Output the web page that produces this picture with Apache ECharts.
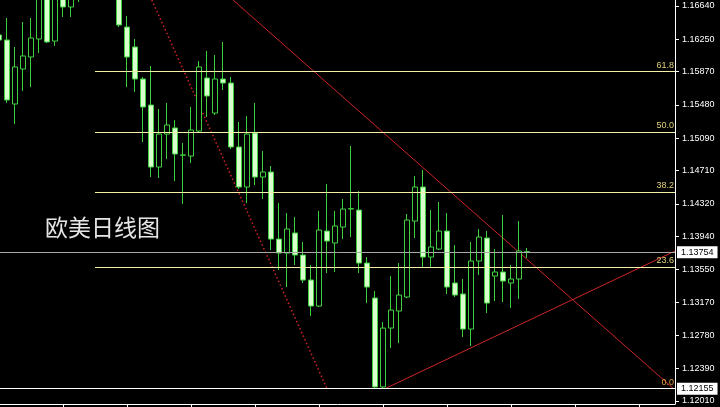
<!DOCTYPE html>
<html><head><meta charset="utf-8">
<script src="https://cdn.jsdelivr.net/npm/echarts@6/dist/echarts.min.js"></script>
<style>html,body{margin:0;padding:0;background:#000;}#c{width:720px;height:407px;}</style>
</head><body><div id="c"></div>
<script>
// Daily EUR/USD candles, index 0..66 (left to right)
const opens  = [1.16300,1.16241,1.15491,1.15901,1.16042,1.16253,1.16886,1.16229,1.16944,1.16628,
                1.16769,1.16886,1.17150,1.17400,1.17200,1.16944,1.16393,1.16159,1.15784,1.15479,
                1.14752,1.15139,1.15210,1.14890,1.14881,1.15174,1.15796,1.15385,1.15784,1.15737,
                1.14987,1.14518,1.15151,1.14635,1.14694,1.13908,1.13744,1.13979,1.13721,1.13428,
                1.13123,1.14002,1.13862,1.14049,1.14260,1.14248,1.13627,1.13217,1.12175,1.12865,
                1.13065,1.13229,1.14119,1.14518,1.13697,1.13791,1.14002,1.13393,1.13264,1.12853,
                1.13651,1.13920,1.13475,1.13522,1.13393,1.13440,1.13760];
const closes = [1.16241,1.15538,1.15925,1.16054,1.16265,1.16827,1.16218,1.16769,1.16628,1.16827,
                1.16886,1.17150,1.17400,1.17200,1.16950,1.16417,1.16042,1.15784,1.15456,1.14752,
                1.15139,1.15245,1.14905,1.14895,1.15186,1.15925,1.15585,1.15784,1.15737,1.14987,
                1.14518,1.15139,1.14635,1.14694,1.13908,1.13744,1.14026,1.13721,1.13428,1.13123,
                1.14014,1.13885,1.14061,1.14260,1.14265,1.13627,1.13346,1.12175,1.12865,1.13076,
                1.13252,1.14131,1.14518,1.13697,1.13815,1.14002,1.13346,1.13252,1.12853,1.13651,
                1.13932,1.13158,1.13522,1.13416,1.13440,1.13768,1.13754];
const lows   = [1.16183,1.15503,1.15256,1.15643,1.15690,1.16089,1.16206,1.16171,1.16511,1.16511,
                1.16687,1.16800,1.17050,1.17000,1.16850,1.16393,1.15690,1.15632,1.15045,1.14635,
                1.14624,1.14846,1.14588,1.14319,1.14799,1.15163,1.15339,1.15362,1.15655,1.14963,
                1.14495,1.14330,1.14541,1.14377,1.13780,1.13545,1.13346,1.13604,1.13393,1.13006,
                1.13111,1.13510,1.13522,1.13908,1.13932,1.13510,1.13158,1.12155,1.12160,1.12631,
                1.12689,1.13217,1.13920,1.13580,1.13569,1.13780,1.13264,1.13229,1.12760,1.12654,
                1.13486,1.13041,1.13182,1.13170,1.13100,1.13205,1.13686];
const highs  = [1.16358,1.16499,1.16159,1.16452,1.16499,1.16944,1.17003,1.16886,1.17062,1.16944,
                1.17000,1.17250,1.17600,1.17550,1.17350,1.17050,1.16522,1.16253,1.15807,1.15936,
                1.15432,1.15503,1.15303,1.15034,1.15456,1.15995,1.16112,1.16065,1.16218,1.15807,
                1.15280,1.15350,1.15503,1.14940,1.14764,1.14330,1.14213,1.14166,1.13873,1.13604,
                1.14237,1.14553,1.14237,1.14377,1.14999,1.14471,1.13697,1.13299,1.12936,1.13475,
                1.13627,1.14202,1.14647,1.14717,1.14248,1.14342,1.14213,1.13838,1.13440,1.13873,
                1.14026,1.14002,1.13791,1.14190,1.13604,1.14119,1.13803];

// Right price-axis tick labels
const yTicks = [1.16640,1.16250,1.15870,1.15480,1.15090,1.14710,1.14320,1.13940,1.13550,1.13170,1.12780,1.12390,1.12010];
// Bottom time-axis tick positions (candle index)
const xTicks = [8,16,24,32,40,48,56,64,72,80];

// Fibonacci retracement
const fibLabels = ['0.0','23.6','38.2','50.0','61.8'];
const fibPrices = [1.12155,1.13580,1.14458,1.15160,1.15870];
const fibStartIdx = 12;

// Horizontal price lines
const currentPrice = 1.13754;
const lowPrice = 1.12155;

// Trend lines [candle index, price]
const trendDotted = [[19.1,1.16710],[41.0,1.12155]];
const trendDown   = [[29.25,1.16710],[84.25,1.12160]];
const trendUp     = [[48.25,1.12155],[84.5,1.13768]];

const title = '欧美日线图';

const X_MIN = 0.125, X_MAX = 84.5;
const candleData = opens.map((o,i)=>[i, o, closes[i], lows[i], highs[i]]);

const chart = echarts.init(document.getElementById('c'), null, {renderer:'canvas'});
const FONT = 'Liberation Sans';
const boxLabel = {
  show:true, position:'end', distance:2,
  formatter: p => Number(p.value).toFixed(5),
  backgroundColor:'#fff', color:'#000', padding:[2,4,1,4],
  fontSize:9, fontFamily:FONT
};
const trendSeries = (pts, type, color, w) => ({
  type:'line', data:pts, showSymbol:false, symbol:'none', silent:true, z:3,
  lineStyle:{color:color, width:w, type:type}, clip:true
});

chart.setOption({
  backgroundColor:'#000',
  animation:false,
  grid:{left:0, top:0, right:45, bottom:3, containLabel:false},
  xAxis:{
    type:'value', min:X_MIN, max:X_MAX,
    axisLine:{show:true, onZero:false, lineStyle:{color:'#fff', width:1}},
    axisTick:{show:true, customValues:xTicks, length:4, lineStyle:{color:'#fff'}},
    axisLabel:{show:false},
    splitLine:{show:false}
  },
  yAxis:{
    type:'value', position:'right', min:1.11975, max:1.16710, scale:true,
    axisLine:{show:true, lineStyle:{color:'#fff', width:1}},
    axisTick:{show:true, customValues:yTicks, length:4, lineStyle:{color:'#fff'}},
    axisLabel:{customValues:yTicks, formatter:v=>Number(v).toFixed(5), color:'#fff', fontSize:9, fontFamily:FONT, margin:7},
    splitLine:{show:false}
  },
  graphic:[{type:'text', left:45, top:216, z:10,
    style:{text:title, fill:'#e6e6e6', font:'23px "Noto Sans CJK SC"'}}],
  series:[
    {
      type:'line', data:[], silent:true, z:1,
      markLine:{
        silent:true, symbol:['none','none'], animation:false, precision:5,
        lineStyle:{color:'#f4f0a8', width:1, type:'solid'},
        label:{show:true, position:'insideEndTop', distance:[1,2], color:'#e0d078', fontSize:9, fontFamily:FONT},
        data: fibPrices.map((p,i)=>[
          {coord:[fibStartIdx,p], label:{formatter:fibLabels[i], color: i===0?'#e0a040':'#e0d078'}},
          {coord:[X_MAX,p]}
        ])
      }
    },
    {
      type:'line', data:[], silent:true, z:2,
      markLine:{
        silent:true, symbol:['none','none'], animation:false, precision:5,
        data:[
          {yAxis:currentPrice, lineStyle:{color:'#a8a8a8', width:1, type:'solid'}, label:boxLabel},
          {yAxis:lowPrice, lineStyle:{color:'#ffffff', width:1, type:'solid'}, label:boxLabel}
        ]
      }
    },
    trendSeries(trendDotted, [1.5,2.5], '#d02424', 1.5),
    trendSeries(trendDown, 'solid', '#cc2626', 1),
    trendSeries(trendUp, 'solid', '#cc2626', 1),
    {
      type:'candlestick', data:candleData, encode:{x:0, y:[1,2,3,4]},
      barWidth:5, clip:true, z:4,
      itemStyle:{color:'#000000', color0:'#d8ffcc', borderColor:'#3ed03e', borderColor0:'#3ed03e', borderWidth:1}
    }
  ]
});
</script></body></html>
